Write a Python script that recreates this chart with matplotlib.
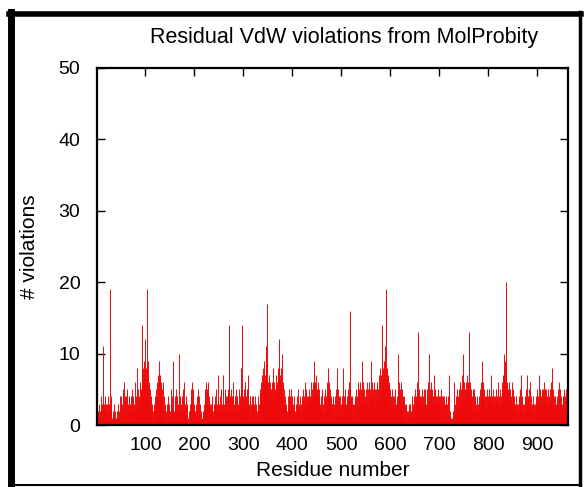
import numpy as np
import matplotlib
matplotlib.use("Agg")
import matplotlib.pyplot as plt
from matplotlib.lines import Line2D

plt.rcParams['font.family'] = ['Liberation Sans', 'DejaVu Sans']

# violations per residue (residues 1..963)
violations = [
    2, 3, 1, 2, 0, 3, 2, 1, 4, 2,   3, 1, 4, 11, 3, 2, 4, 1, 3, 2,
    1, 3, 2, 4, 1, 3, 19, 2, 4, 3,  1, 0, 2, 1, 3, 0, 1, 2, 0, 1,
    2, 1, 0, 3, 1, 2, 4, 1, 3, 2,   4, 2, 3, 1, 5, 6, 2, 4, 3, 1,
    4, 2, 5, 3, 1, 2, 4, 3, 2, 4,   1, 3, 5, 2, 4, 1, 3, 6, 2, 3,
    4, 2, 8, 3, 5, 2, 4, 6, 3, 5,   4, 7, 14, 6, 8, 5, 9, 7, 4, 12,
    6, 8, 19, 7, 5, 9, 4, 6, 3, 5,  2, 4, 1, 3, 2, 0, 1, 3, 2, 4,
    3, 5, 6, 4, 7, 5, 9, 6, 7, 5,   6, 4, 5, 3, 6, 2, 4, 1, 3, 0,
    1, 2, 0, 3, 1, 2, 4, 1, 3, 2,   1, 5, 3, 2, 4, 9, 3, 1, 2, 4,
    3, 5, 2, 1, 4, 2, 3, 10, 2, 4,  1, 3, 2, 4, 1, 3, 5, 2, 6, 3,
    2, 4, 1, 3, 2, 0, 1, 0, 2, 1,   3, 2, 4, 5, 6, 3, 5, 4, 2, 3,
    1, 2, 3, 1, 4, 2, 3, 5, 2, 4,   3, 1, 2, 0, 1, 0, 2, 1, 3, 2,
    4, 5, 3, 6, 4, 5, 3, 6, 2, 4,   3, 2, 1, 3, 2, 4, 1, 2, 3, 1,
    2, 3, 4, 2, 5, 3, 2, 4, 7, 3,   2, 4, 3, 1, 5, 2, 3, 4, 7, 2,
    3, 5, 2, 4, 3, 1, 4, 2, 5, 6,   14, 4, 3, 5, 2, 4, 3, 6, 2, 3,
    1, 4, 2, 3, 5, 2, 4, 3, 1, 2,   3, 5, 2, 4, 6, 8, 14, 5, 3, 4,
    2, 5, 3, 6, 4, 3, 5, 2, 4, 7,   3, 2, 4, 1, 3, 2, 4, 1, 3, 4,
    2, 3, 1, 4, 2, 3, 1, 2, 4, 1,   3, 2, 4, 5, 3, 6, 4, 5, 7, 6,
    8, 5, 9, 7, 6, 11, 8, 17, 9, 6, 5, 7, 4, 6, 3, 5, 4, 6, 3, 5,
    8, 4, 6, 3, 5, 7, 4, 6, 5, 8,   6, 9, 12, 7, 5, 8, 6, 10, 4, 6,
    3, 5, 2, 4, 3, 1, 2, 3, 1, 2,   4, 2, 3, 5, 2, 4, 5, 3, 2, 4,
    1, 3, 2, 4, 1, 2, 3, 1, 2, 4,   3, 5, 2, 3, 1, 4, 2, 3, 4, 2,
    3, 5, 2, 4, 6, 3, 5, 2, 4, 3,   2, 4, 3, 5, 2, 4, 3, 6, 4, 5,
    3, 6, 4, 7, 9, 5, 6, 4, 7, 5,   4, 6, 3, 5, 4, 3, 2, 4, 3, 5,
    2, 3, 1, 4, 2, 3, 5, 2, 4, 6,   3, 5, 8, 4, 6, 3, 5, 2, 4, 3,
    2, 3, 1, 4, 2, 3, 4, 2, 5, 3,   8, 3, 5, 2, 4, 3, 2, 4, 1, 3,
    2, 4, 3, 8, 2, 4, 3, 5, 2, 3,   4, 2, 5, 3, 6, 4, 16, 5, 3, 4,
    2, 4, 3, 1, 3, 2, 4, 3, 2, 5,   3, 2, 4, 6, 3, 5, 4, 3, 6, 4,
    5, 3, 9, 4, 6, 3, 5, 4, 3, 5,   4, 6, 3, 5, 2, 4, 6, 3, 5, 4,
    9, 4, 6, 5, 3, 6, 4, 5, 3, 4,   5, 3, 6, 4, 5, 3, 7, 8, 5, 6,
    4, 7, 5, 14, 6, 8, 5, 9, 7, 11, 6, 19, 8, 6, 5, 7, 4, 6, 3, 5,
    4, 3, 5, 2, 4, 3, 2, 4, 3, 5,   3, 2, 4, 3, 5, 10, 4, 6, 3, 5,
    4, 6, 3, 5, 4, 3, 2, 4, 1, 3,   2, 3, 1, 2, 0, 1, 2, 3, 1, 2,
    3, 1, 2, 4, 1, 3, 2, 4, 3, 5,   2, 4, 3, 5, 6, 13, 4, 5, 3, 4,
    2, 3, 4, 2, 5, 3, 4, 5, 3, 5,   4, 3, 2, 4, 3, 5, 2, 6, 10, 4,
    5, 3, 4, 6, 3, 5, 4, 3, 4, 7,   4, 5, 3, 4, 2, 4, 3, 5, 4, 3,
    4, 2, 3, 5, 4, 3, 4, 2, 3, 4,   3, 2, 4, 3, 1, 3, 2, 4, 3, 7,
    2, 1, 0, 1, 0, 0, 1, 0, 2, 1,   6, 3, 2, 4, 3, 5, 2, 4, 3, 5,
    4, 6, 3, 5, 4, 7, 5, 10, 4, 6,  3, 5, 4, 6, 3, 5, 7, 4, 6, 13,
    5, 4, 6, 3, 5, 4, 3, 5, 2, 4,   3, 5, 2, 4, 3, 2, 4, 1, 3, 2,
    4, 3, 5, 2, 6, 4, 5, 9, 4, 6,   3, 5, 4, 2, 4, 3, 5, 2, 4, 3,
    4, 5, 3, 4, 6, 7, 4, 3, 5, 2,   4, 3, 2, 4, 3, 5, 2, 4, 3, 5,
    6, 3, 4, 2, 5, 3, 4, 6, 5, 7,   5, 8, 10, 6, 9, 20, 8, 5, 6, 4,
    5, 3, 6, 4, 5, 3, 4, 6, 3, 4,   5, 3, 4, 2, 3, 4, 2, 3, 1, 2,
    3, 2, 4, 3, 5, 2, 7, 3, 4, 2,   3, 1, 2, 3, 4, 2, 3, 5, 2, 7,
    3, 4, 2, 5, 6, 3, 4, 2, 3, 1,   2, 4, 3, 1, 3, 2, 4, 3, 5, 2,
    3, 4, 7, 3, 5, 2, 4, 3, 5, 4,   3, 5, 4, 6, 3, 4, 5, 5, 3, 4,
    2, 3, 5, 4, 3, 5, 4, 6, 3, 8,   4, 5, 3, 4, 2, 3, 4, 2, 3, 4,
    3, 5, 2, 6, 4, 3, 5, 2, 4, 3,   2, 4, 3, 5, 2, 4, 3, 5, 4, 6,
    7, 5, 6,
]
residues = np.arange(1, len(violations) + 1)

xticks = [100, 200, 300, 400, 500, 600, 700, 800, 900]
yticks = [0, 10, 20, 30, 40, 50]

W, H = 584, 487
fig = plt.figure(figsize=(W / 100, H / 100), dpi=100)
ax = fig.add_axes([97 / W, 1 - 425 / H, 471 / W, 357 / H])

ax.vlines(residues, 0, violations, color='#ee0a0a', linewidth=0.7)

ax.set_xlim(1, 963)
ax.set_ylim(0, 50)
ax.set_xticks(xticks)
ax.set_yticks(yticks)
ax.tick_params(direction='in', length=6, width=1, labelsize=14,
               top=True, right=True, pad=9)
ax.tick_params(axis='y', pad=12)
for s in ax.spines.values():
    s.set_linewidth(1.6)

ax.set_xlabel('Residue number', fontsize=15, labelpad=5)
ax.set_ylabel('# violations', fontsize=15, labelpad=14)
fig.text(344 / W, 1 - 38 / H, 'Residual VdW violations from MolProbity',
         ha='center', va='center', fontsize=15.5)

# outer frame of the screenshot
fig.add_artist(Line2D([11 / W, 11 / W], [0, 1 - 12 / H], color='black', lw=5,
                      transform=fig.transFigure))
fig.add_artist(Line2D([9 / W, 581 / W], [1 - 14 / H, 1 - 14 / H], color='black', lw=4,
                      transform=fig.transFigure))
fig.add_artist(Line2D([580 / W, 580 / W], [1 - 12 / H, 1 - 485 / H], color='black', lw=2.5,
                      transform=fig.transFigure))
fig.add_artist(Line2D([9 / W, 581 / W], [1 - 485 / H, 1 - 485 / H], color='black', lw=1.5,
                      transform=fig.transFigure))

fig.savefig('out.png', dpi=100)
